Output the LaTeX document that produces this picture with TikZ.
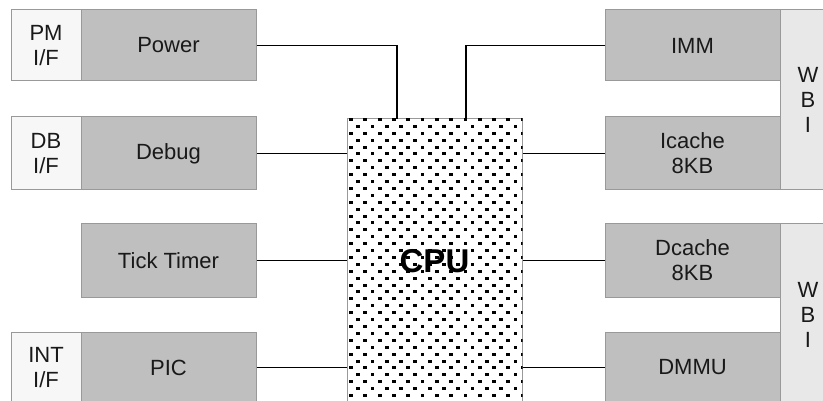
\documentclass[tikz,border=0pt]{standalone}
\usepackage{fontspec}
\setmainfont{Liberation Sans}
\begin{document}
\begin{tikzpicture}[x=1pt,y=-1pt,
  every node/.style={font=\fontsize{22}{25}\selectfont, text=black!90, align=center, inner sep=0pt},
  gbox/.style={draw=black!40, line width=1pt, fill=black!25, minimum width=175pt},
  lbox/.style={draw=black!40, line width=1pt, fill=black!3, minimum width=70pt},
  wbox/.style={draw=black!40, line width=1pt, fill=black!9, minimum width=56pt},
  conn/.style={draw=black, line width=1.3pt}]
\useasboundingbox (0,0) rectangle (823,401);
\clip (0,0) rectangle (823,401);
% left column
\node[lbox, minimum height=71pt] (pmif) at (46,45.5) {PM\\I/F};
\node[gbox, minimum height=71pt] (power) at (168.5,45.5) {Power};
\node[lbox, minimum height=73pt] (dbif) at (46,153.5) {DB\\I/F};
\node[gbox, minimum height=73pt] (debug) at (168.5,153.5) {Debug};
\node[gbox, minimum height=73pt] (tick) at (168.5,260.5) {Tick Timer};
\node[lbox, minimum height=71pt] (intif) at (46,367.5) {INT\\I/F};
\node[gbox, minimum height=71pt] (pic) at (168.5,367.5) {PIC};
% right column
\node[wbox, minimum height=180pt] (wbi1) at (808,100) {W\\B\\I};
\node[wbox, minimum height=182pt] (wbi2) at (808,315) {W\\B\\I};
\node[gbox, minimum height=71pt] (imm) at (692.5,45.5) {IMM};
\node[gbox, minimum height=73pt] (icache) at (692.5,153.5) {Icache\\8KB};
\node[gbox, minimum height=73pt] (dcache) at (692.5,260.5) {Dcache\\8KB};
\node[gbox, minimum height=71pt] (dmmu) at (692.5,367.5) {DMMU};
% CPU
\node[draw=black!40, line width=1pt, fill=white, minimum width=175pt, minimum height=284pt] (cpu) at (434.5,261) {};
\begin{scope}
\clip (cpu.south west) rectangle (cpu.north east);
\foreach \j in {0,...,42}{
  \foreach \i in {0,...,12}{
    \pgfmathsetmacro{\px}{351+14.3*\i+mod(\j,2)*7.15}
    \pgfmathsetmacro{\py}{119.5+6.9*\j}
    \fill[black] (\px-1.9,\py-1.5) rectangle (\px+1.9,\py+1.5);
  }
}
\end{scope}
\node[font=\bfseries\fontsize{33}{35}\selectfont, text=black] (cpulabel) at (cpu.center) {CPU};
% connectors
\coordinate (cpuT1) at (397,119);
\coordinate (cpuT2) at (466,119);
\draw[conn] (power.east) -| (cpuT1);
\draw[conn] (imm.west) -| (cpuT2);
\draw[conn] (debug.east) -- (cpu.west |- debug.east);
\draw[conn] (tick.east) -- (cpu.west |- tick.east);
\draw[conn] (pic.east) -- (cpu.west |- pic.east);
\draw[conn] (icache.west) -- (cpu.east |- icache.west);
\draw[conn] (dcache.west) -- (cpu.east |- dcache.west);
\draw[conn] (dmmu.west) -- (cpu.east |- dmmu.west);
\end{tikzpicture}
\end{document}
